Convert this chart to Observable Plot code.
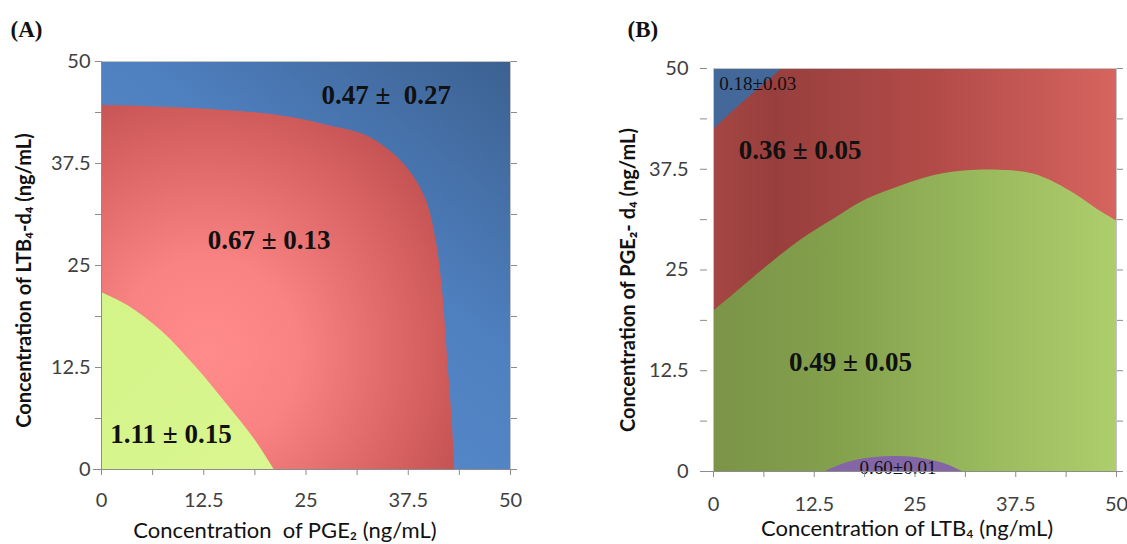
<!DOCTYPE html>
<html>
<head>
<meta charset="utf-8">
<script src="https://cdn.jsdelivr.net/npm/d3@7"></script>
<script src="https://cdn.jsdelivr.net/npm/@observablehq/plot@0.6"></script>
<style>
  body { margin: 0; background: #fff; }
  #wrap { position: relative; width: 1127px; height: 544px; overflow: hidden; background: #fff; }
  #wrap svg { position: absolute; top: 0; }
</style>
</head>
<body>
<div id="wrap"></div>
<script>
// ---------- data ----------
const tickLabels = [0, 12.5, 25, 37.5, 50];
const tickMarks = [0, 6.25, 12.5, 18.75, 25, 31.25, 37.5, 43.75, 50];

// Panel A: response surface regions (PGE2 vs LTB4-d4)
const greenA_x = [0, 3.2, 7.3, 11.4, 15.4, 18.7, 21.1];
const greenA_y = [21.7, 20.1, 17.0, 12.7, 7.9, 3.7, 0];
const redA_x = [0, 5, 10, 15, 20, 24, 27.9, 31.9, 35.2, 37.65, 39.7, 40.9, 41.7, 42.3, 42.9, 43.2];
const redA_y = [44.6, 44.5, 44.3, 44.0, 43.6, 43.0, 42.1, 41.1, 39.1, 36.6, 33.0, 28.1, 21.9, 13.8, 5.6, 0];
const labelsA = ["0.47 \u00b1\u00a0 0.27", "0.67 \u00b1 0.13", "1.11 \u00b1 0.15"];
const labelsA_x = [34.8, 20.5, 8.5];
const labelsA_y = [45.8, 28.1, 4.3];

// Panel B: response surface regions (LTB4 vs PGE2-d4)
const greenB_x = [0, 2.55, 6.7, 10.8, 14.9, 19.1, 23.2, 27.3, 31.5, 34.8, 39.7, 43.9, 48.0, 50];
const greenB_y = [19.9, 22.0, 25.5, 28.7, 31.3, 33.8, 35.4, 36.7, 37.3, 37.4, 36.9, 35.0, 32.3, 31.1];
const blueB_x = [0, 2, 4, 6, 8.55];
const blueB_y = [42.4, 44.3, 46.1, 47.8, 50];
const purpleB_x = [13.9, 16, 18, 20, 22.3, 25, 27, 29, 30.9];
const purpleB_y = [0, 0.9, 1.45, 1.75, 1.85, 1.75, 1.4, 0.85, 0];
const bigLabelsB = ["0.36 \u00b1 0.05", "0.49 \u00b1 0.05"];
const bigLabelsB_x = [10.75, 17.0];
const bigLabelsB_y = [39.8, 13.5];
const smallLabelsB = ["0.18\u00b10.03", "0.60\u00b10.01"];
const smallLabelsB_x = [5.5, 22.9];
const smallLabelsB_y = [48.1, 0.5];

const titleA = "(A)", titleB = "(B)";
const xLabelA = "Concentration\u00a0 of PGE\u2082 (ng/mL)";
const yLabelA = "Concentration of LTB\u2084-d\u2084 (ng/mL)";
const xLabelB = "Concentration of LTB\u2084 (ng/mL)";
const yLabelB = "Concentration of PGE\u2082- d\u2084 (ng/mL)";

// ---------- helpers ----------
const zip = (xs, ys) => xs.map((x, i) => ({x, y: ys[i]}));
const zipT = (ts, xs, ys) => ts.map((t, i) => ({t, x: xs[i], y: ys[i]}));
const domain = d3.extent(tickLabels);
const fmt = d => tickLabels.includes(d) ? String(d) : "";
const blank = () => "";
const SANS = "Lato, 'Open Sans', sans-serif";
const SERIF = "'Liberation Serif', 'DejaVu Serif', serif";
const AXIS = "#8c8c8c";
const TICKTXT = "#404040";

function addDefs(svg, defs) {
  const d = d3.select(svg).insert("defs", ":first-child");
  defs.forEach(g => {
    const el = d.append(g.type).attr("id", g.id);
    Object.entries(g.attrs).forEach(([k, v]) => el.attr(k, v));
    g.stops.forEach(([o, c]) => el.append("stop").attr("offset", o).attr("stop-color", c));
  });
}

const wrap = document.getElementById("wrap");

// ---------- Panel A ----------
const chartA = Plot.plot({
  width: 560, height: 544,
  marginLeft: 101, marginRight: 50, marginTop: 61, marginBottom: 75,
  x: {domain}, y: {domain},
  style: {fontFamily: SANS, fontSize: "18px", background: "transparent", overflow: "visible"},
  marks: [
    Plot.frame({fill: "url(#blueA)", stroke: "none"}),
    Plot.areaY(zip(redA_x, redA_y), {x: "x", y: "y", fill: "url(#redA)", curve: "catmull-rom"}),
    Plot.areaY(zip(greenA_x, greenA_y), {x: "x", y: "y", fill: "url(#greenA)", curve: "catmull-rom"}),
    Plot.text(zipT(labelsA, labelsA_x, labelsA_y), {x: "x", y: "y", text: "t", fontFamily: SERIF, fontWeight: "bold", fontSize: 27, fill: "#111"}),
    Plot.frame({stroke: "#c4c4c4"}),
    Plot.ruleX([domain[0]], {stroke: AXIS, insetBottom: -6}),
    Plot.ruleY([domain[0]], {stroke: AXIS, insetLeft: -8, insetRight: -3}),
    Plot.axisY({ticks: tickMarks, anchor: "left", label: null, tickSize: 6, tickPadding: 5, tickFormat: fmt, stroke: AXIS, fill: TICKTXT, fontSize: 20, fontFamily: SANS}),
    Plot.axisY({ticks: tickMarks, anchor: "right", label: null, tickSize: 6, tickFormat: blank, stroke: AXIS}),
    Plot.axisX({ticks: tickMarks, anchor: "bottom", label: null, tickSize: 6, tickPadding: 17, tickFormat: fmt, stroke: AXIS, fill: TICKTXT, fontSize: 20, fontFamily: SANS}),
    Plot.text([xLabelA], {text: d => d, frameAnchor: "bottom", textAnchor: "middle", lineAnchor: "middle", dx: -21, dy: 61, fontSize: 22, fontFamily: SANS, fill: "#111"}),
    Plot.text([yLabelA], {text: d => d, frameAnchor: "left", textAnchor: "middle", lineAnchor: "middle", rotate: -90, dx: -77, dy: 15, fontSize: 20, fontWeight: "bold", fontFamily: SANS, fill: "#111"}),
    Plot.text([titleA], {text: d => d, frameAnchor: "top-left", textAnchor: "start", lineAnchor: "middle", dx: -91, dy: -32, fontSize: 23, fontWeight: "bold", fontFamily: SERIF, fill: "#111"})
  ]
});
addDefs(chartA, [
  {type: "linearGradient", id: "blueA", attrs: {x1: 0.2, y1: 1, x2: 1, y2: 0},
   stops: [[0, "#5a8fd2"], [0.55, "#4f80c0"], [1, "#3c6191"]]},
  {type: "radialGradient", id: "redA", attrs: {cx: 0.3, cy: 0.68, r: 0.85, fx: 0.3, fy: 0.68},
   stops: [[0, "#ff8c8a"], [0.3, "#f98282"], [0.7, "#d86262"], [1, "#bb4c4b"]]},
  {type: "linearGradient", id: "greenA", attrs: {x1: 0, y1: 0, x2: 1, y2: 1},
   stops: [[0, "#d3f488"], [1, "#daf690"]]}
]);
chartA.style.left = "0px";
wrap.appendChild(chartA);

// ---------- Panel B ----------
const chartB = Plot.plot({
  width: 567, height: 544,
  marginLeft: 153, marginRight: 11, marginTop: 68, marginBottom: 73,
  x: {domain}, y: {domain},
  style: {fontFamily: SANS, fontSize: "18px", background: "transparent", overflow: "visible"},
  marks: [
    Plot.frame({fill: "url(#redB)", stroke: "none"}),
    Plot.areaY(zip(blueB_x, blueB_y), {x: "x", y1: "y", y2: domain[1], fill: "#436899", curve: "catmull-rom"}),
    Plot.areaY(zip(greenB_x, greenB_y), {x: "x", y: "y", fill: "url(#greenB)", curve: "catmull-rom"}),
    Plot.areaY(zip(purpleB_x, purpleB_y), {x: "x", y: "y", fill: "#8466a6", curve: "catmull-rom"}),
    Plot.text(zipT(bigLabelsB, bigLabelsB_x, bigLabelsB_y), {x: "x", y: "y", text: "t", fontFamily: SERIF, fontWeight: "bold", fontSize: 27, fill: "#111"}),
    Plot.text(zipT(smallLabelsB, smallLabelsB_x, smallLabelsB_y), {x: "x", y: "y", text: "t", fontFamily: SERIF, fontSize: 19, fill: "#111"}),
    Plot.frame({stroke: "#c4c4c4"}),
    Plot.ruleY([domain[0]], {stroke: AXIS, insetLeft: -13, insetRight: -3}),
    Plot.axisY({ticks: tickMarks, anchor: "left", label: null, dx: -6, tickSize: 7, tickPadding: 12, tickFormat: fmt, stroke: AXIS, fill: TICKTXT, fontSize: 20, fontFamily: SANS}),
    Plot.axisY({ticks: tickMarks, anchor: "right", label: null, tickSize: 6, tickFormat: blank, stroke: AXIS}),
    Plot.axisX({ticks: tickMarks, anchor: "bottom", label: null, tickSize: 6, tickPadding: 19, tickFormat: fmt, stroke: AXIS, fill: TICKTXT, fontSize: 20, fontFamily: SANS}),
    Plot.text([xLabelB], {text: d => d, frameAnchor: "bottom", textAnchor: "middle", lineAnchor: "middle", dx: -8, dy: 57, fontSize: 22, fontFamily: SANS, fill: "#111"}),
    Plot.text([yLabelB], {text: d => d, frameAnchor: "left", textAnchor: "middle", lineAnchor: "middle", rotate: -90, dx: -85, dy: 10, fontSize: 20, fontWeight: "bold", fontFamily: SANS, fill: "#111"}),
    Plot.text([titleB], {text: d => d, frameAnchor: "top-left", textAnchor: "start", lineAnchor: "middle", dx: -86, dy: -39, fontSize: 23, fontWeight: "bold", fontFamily: SERIF, fill: "#111"})
  ]
});
addDefs(chartB, [
  {type: "linearGradient", id: "redB", attrs: {x1: 0, y1: 0, x2: 1, y2: 0},
   stops: [[0, "#a54644"], [0.15, "#983f3d"], [0.55, "#b24b48"], [1, "#d6645f"]]},
  {type: "linearGradient", id: "greenB", attrs: {x1: 0, y1: 0, x2: 1, y2: 0},
   stops: [[0, "#7b9448"], [0.3, "#83a04c"], [0.65, "#98b85c"], [1, "#aecd6c"]]}
]);
chartB.style.left = "560px";
wrap.appendChild(chartB);
</script>
</body>
</html>
